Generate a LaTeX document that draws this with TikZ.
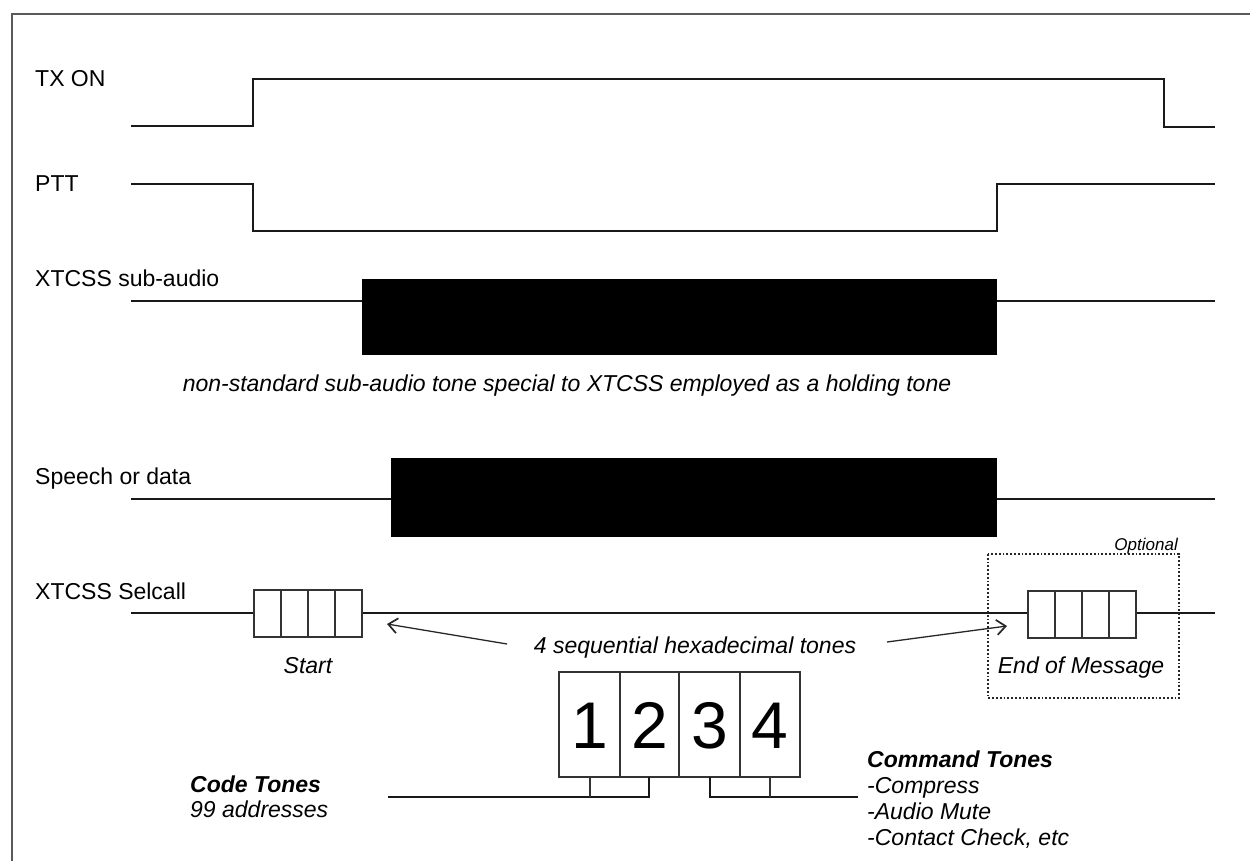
\documentclass[tikz,border=0pt]{standalone}
\usepackage{fontspec}
\setmainfont{Liberation Sans}
\usetikzlibrary{arrows.meta}
\begin{document}
\begin{tikzpicture}[x=1pt,y=-1pt,
  lbl/.style={font=\fontsize{23}{27}\selectfont, inner sep=0pt},
  ital/.style={font=\fontsize{23}{27}\selectfont\itshape, inner sep=0pt},
  boldital/.style={font=\fontsize{23}{27}\selectfont\bfseries\itshape, inner sep=0pt},
  digit/.style={font=\fontsize{66}{70}\selectfont, inner sep=0pt},
  sig/.style={line width=1.7pt, draw=black!90},
  cell/.style={line width=1.3pt, draw=black!80},
  frame/.style={line width=1.5pt, draw=black!65},
  arr/.style={line width=1.3pt, draw=black!85, -{Straight Barb[length=9pt,width=15pt,line width=1.7pt]}},
  optbox/.style={line width=1.8pt, draw=black!85, dotted}
]
\useasboundingbox (0,0) rectangle (1250,861);
\fill[white] (0,0) rectangle (1250,861);
% frame
\draw[frame] (12,861) -- (12,14) -- (1250,14);

% labels
\node[lbl, anchor=base west] (ltx) at (35,87) {TX ON};
\node[lbl, anchor=base west] (lptt) at (35,192) {PTT};
\node[lbl, anchor=base west] (lsub) at (35,286) {XTCSS sub-audio};
\node[lbl, anchor=base west] (lsp) at (35,484) {Speech or data};
\node[lbl, anchor=base west] (lsel) at (35,599) {XTCSS Selcall};

% TX ON
\draw[sig] (131,126) -- (253,126) -- (253,79) -- (1164,79) -- (1164,127) -- (1215,127);
% PTT
\draw[sig] (131,184) -- (253,184) -- (253,231) -- (997,231) -- (997,184) -- (1215,184);
% sub-audio
\draw[sig] (131,301) -- (1215,301);
\fill[black] (362,279) rectangle (997,355);
\node[ital, anchor=base] (nonstd) at (567,391) {non-standard sub-audio tone special to XTCSS employed as a holding tone};
% speech
\draw[sig] (131,499) -- (1215,499);
\fill[black] (391,458) rectangle (997,537);

% selcall
\draw[sig] (131,613) -- (1215,613);
\filldraw[cell, fill=white] (254,590) rectangle (362,637);
\foreach \x in {281,308,335} \draw[cell] (\x,590) -- (\x,637);
\filldraw[cell, fill=white] (1028,591) rectangle (1136,638);
\foreach \x in {1055,1082,1109} \draw[cell] (\x,591) -- (\x,638);
\node[ital, anchor=base] (start) at (308,673) {Start};
\node[ital, anchor=base] (eom) at (1081,673) {End of Message};
\draw[optbox] (988,554) rectangle (1179,698);
\node[font=\fontsize{17}{20}\selectfont\itshape, inner sep=0pt, anchor=base east] (opt) at (1178,550) {Optional};

% sequential tones
\node[ital, anchor=base] (seq) at (695,653) {4 sequential hexadecimal tones};
\coordinate (la) at (507,644);
\coordinate (lt) at (387,624);
\coordinate (ra) at (887,642);
\coordinate (rt) at (1007,626);
\draw[arr] (la) -- (lt);
\draw[arr] (ra) -- (rt);

% big boxes
\draw[cell] (559,672) rectangle (800,777);
\foreach \x in {620,679,740} \draw[cell] (\x,672) -- (\x,777);
\node[digit, anchor=base] (d1) at (589.5,748) {1};
\node[digit, anchor=base] (d2) at (649.5,748) {2};
\node[digit, anchor=base] (d3) at (709.5,748) {3};
\node[digit, anchor=base] (d4) at (770,748) {4};

% brackets
\draw[sig] (388,797) -- (649,797) -- (649,777);
\draw[cell] (590,777) -- (590,797);
\draw[sig] (710,777) -- (710,797) -- (858,797);
\draw[cell] (770,777) -- (770,797);

% bottom texts
\node[boldital, anchor=base west] (code) at (190,792) {Code Tones};
\node[ital, anchor=base west] (addr) at (190,817) {99 addresses};
\node[boldital, anchor=base west] (cmd) at (867,767) {Command Tones};
\node[ital, anchor=base west] (c1) at (867,793) {-Compress};
\node[ital, anchor=base west] (c2) at (867,819) {-Audio Mute};
\node[ital, anchor=base west] (c3) at (867,845) {-Contact Check, etc};
\end{tikzpicture}
\end{document}
